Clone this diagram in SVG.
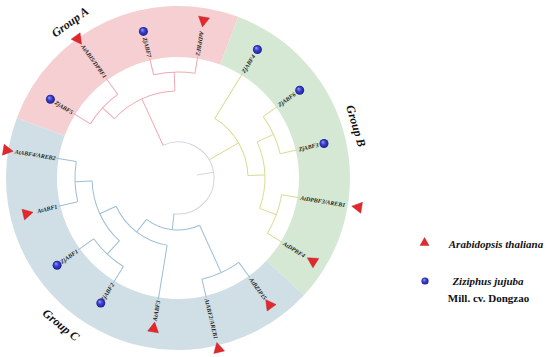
<svg xmlns="http://www.w3.org/2000/svg" width="550" height="357" viewBox="0 0 550 357">
<style>
.lbl{font-family:"Liberation Serif","DejaVu Serif",serif;font-weight:bold;font-style:italic;font-size:6px;fill:#1c1c1c;dominant-baseline:central}
.grp{font-family:"Liberation Serif","DejaVu Serif",serif;font-weight:bold;font-style:italic;font-size:12px;fill:#111;text-anchor:middle;dominant-baseline:central}
.leg{font-family:"Liberation Serif","DejaVu Serif",serif;font-weight:bold;font-size:11px;fill:#111;text-anchor:middle}
.tri{fill:#e2282d;stroke:#b81a1f;stroke-width:0.4}
.dot{fill:url(#gBlue)}
.cn path{fill:none;stroke-width:1}
.pk{stroke:#f0a9b2}
.gr{stroke:#d6dc8f}
.bl{stroke:#9dbdd6}
.rt{stroke:#d9d1e3}
</style>
<defs>
<radialGradient id="gBlue" cx="0.5" cy="0.5" r="0.5" fx="0.35" fy="0.3">
<stop offset="0" stop-color="#9a9cf5"/>
<stop offset="0.5" stop-color="#3b40d0"/>
<stop offset="1" stop-color="#1c1f8e"/>
</radialGradient>
</defs>
<rect width="550" height="357" fill="#fff"/>
<g id="rings">
<path id="groupA-band" fill="#f5cfd1" d="M16.84 117.90A172 172 0 0 1 238.10 16.84L220.28 64.62A121 121 0 0 0 64.62 135.72Z"/>
<path id="groupB-band" fill="#d5e8d3" d="M238.10 16.84A172 172 0 0 1 303.90 295.18L266.57 260.44A121 121 0 0 0 220.28 64.62Z"/>
<path id="groupC-band" fill="#d0dfe5" d="M303.90 295.18A172 172 0 0 1 16.84 117.90L64.62 135.72A121 121 0 0 0 266.57 260.44Z"/>
</g>
<g id="connectors" class="cn" transform="translate(178 178)">
<path class="rt" transform="rotate(245.45)" d="M36 0A36 36 0 1 1 -30.88 -18.51"/>
<path class="rt" transform="rotate(350.9)" d="M19 0H36"/>
<g class="pk">
<path transform="rotate(245.45)" d="M36 0H87"/>
<path transform="rotate(222.95)" d="M87 0A87 87 0 0 1 61.52 61.52"/>
<path transform="rotate(222.95)" d="M87 0H103"/>
<path transform="rotate(267.95)" d="M87 0H106"/>
<path transform="rotate(211.7)" d="M103 0A103 103 0 0 1 95.16 39.42"/>
<path transform="rotate(256.7)" d="M106 0A106 106 0 0 1 97.93 40.56"/>
<path transform="rotate(211.7)" d="M103 0H123"/>
<path transform="rotate(234.2)" d="M103 0H123"/>
<path transform="rotate(256.7)" d="M106 0H123"/>
<path transform="rotate(279.2)" d="M106 0H123"/>
</g>
<g class="gr">
<path transform="rotate(329.83)" d="M36 0H70"/>
<path transform="rotate(301.7)" d="M70 0A70 70 0 0 1 38.89 58.20"/>
<path transform="rotate(301.7)" d="M70 0H123"/>
<path transform="rotate(357.95)" d="M70 0H87"/>
<path transform="rotate(335.45)" d="M87 0A87 87 0 0 1 61.52 61.52"/>
<path transform="rotate(335.45)" d="M87 0H105"/>
<path transform="rotate(20.45)" d="M87 0H105"/>
<path transform="rotate(324.2)" d="M105 0A105 105 0 0 1 97.01 40.18"/>
<path transform="rotate(9.2)" d="M105 0A105 105 0 0 1 97.01 40.18"/>
<path transform="rotate(324.2)" d="M105 0H123"/>
<path transform="rotate(346.7)" d="M105 0H123"/>
<path transform="rotate(9.2)" d="M105 0H123"/>
<path transform="rotate(31.7)" d="M105 0H123"/>
</g>
<g class="bl">
<path transform="rotate(96.39)" d="M36 0H52"/>
<path transform="rotate(65.45)" d="M52 0A52 52 0 0 1 24.51 45.86"/>
<path transform="rotate(65.45)" d="M52 0H104"/>
<path transform="rotate(54.2)" d="M104 0A104 104 0 0 1 96.08 39.80"/>
<path transform="rotate(54.2)" d="M104 0H123"/>
<path transform="rotate(76.7)" d="M104 0H123"/>
<path transform="rotate(127.33)" d="M52 0H68"/>
<path transform="rotate(99.2)" d="M68 0A68 68 0 0 1 37.78 56.54"/>
<path transform="rotate(99.2)" d="M68 0H123"/>
<path transform="rotate(155.45)" d="M68 0H86"/>
<path transform="rotate(132.95)" d="M86 0A86 86 0 0 1 60.81 60.81"/>
<path transform="rotate(132.95)" d="M86 0H104"/>
<path transform="rotate(177.95)" d="M86 0H103"/>
<path transform="rotate(121.7)" d="M104 0A104 104 0 0 1 96.08 39.80"/>
<path transform="rotate(121.7)" d="M104 0H123"/>
<path transform="rotate(144.2)" d="M104 0H123"/>
<path transform="rotate(166.7)" d="M103 0A103 103 0 0 1 95.16 39.42"/>
<path transform="rotate(166.7)" d="M103 0H123"/>
<path transform="rotate(189.2)" d="M103 0H123"/>
</g>
</g>
<g id="leaf-ZjABF5"><text class="lbl" transform="translate(178 178) rotate(31.7)" x="-124" text-anchor="end">ZjABF5</text><circle class="dot" cx="50.4" cy="99.2" r="4.5"/></g>
<g id="leaf-AtABI5-DPBF1"><g transform="translate(178 178) rotate(234.2)"><text class="lbl" transform="rotate(180)" x="-124" text-anchor="end">AtABI5/DPBF1</text><polygon class="tri" points="165,0 175,-5.5 175,5.5"/></g></g>
<g id="leaf-ZjABF7"><text class="lbl" transform="translate(178 178) rotate(76.7)" x="-124" text-anchor="end">ZjABF7</text><circle class="dot" cx="143.4" cy="31.4" r="4.5"/></g>
<g id="leaf-AtDPBF2"><g transform="translate(178 178) rotate(279.2)"><text class="lbl" transform="rotate(180)" x="-124" text-anchor="end">AtDPBF2</text><polygon class="tri" points="153,0 163,-5.5 163,5.5"/></g></g>
<g id="leaf-ZjABF4"><text class="lbl" transform="translate(178 178) rotate(301.7)" x="124">ZjABF4</text><circle class="dot" cx="257.4" cy="49.5" r="4.5"/></g>
<g id="leaf-ZjABF6"><text class="lbl" transform="translate(178 178) rotate(324.2)" x="124">ZjABF6</text><circle class="dot" cx="299.7" cy="90.3" r="4.5"/></g>
<g id="leaf-ZjABF3"><text class="lbl" transform="translate(178 178) rotate(346.7)" x="124">ZjABF3</text><circle class="dot" cx="324.0" cy="143.5" r="4.5"/></g>
<g id="leaf-AtDPBF3-AREB1"><g transform="translate(178 178) rotate(9.2)"><text class="lbl" x="124">AtDPBF3/AREB1</text><polygon class="tri" points="176,0 186,-5.5 186,5.5"/></g></g>
<g id="leaf-AtDPBF4"><g transform="translate(178 178) rotate(31.7)"><text class="lbl" x="124">AtDPBF4</text><polygon class="tri" points="152,0 162,-5.5 162,5.5"/></g></g>
<g id="leaf-AtBZIP15"><g transform="translate(178 178) rotate(54.2)"><text class="lbl" x="124">AtBZIP15</text><polygon class="tri" points="150,0 160,-5.5 160,5.5"/></g></g>
<g id="leaf-AtABF2-AREB1"><g transform="translate(178 178) rotate(76.7)"><text class="lbl" x="124">AtABF2/AREB1</text><polygon class="tri" points="169,0 179,-5.5 179,5.5"/></g></g>
<g id="leaf-AtABF3"><g transform="translate(178 178) rotate(99.2)"><text class="lbl" transform="rotate(180)" x="-124" text-anchor="end">AtABF3</text><polygon class="tri" points="146,0 156,-5.5 156,5.5"/></g></g>
<g id="leaf-ZjABF2"><text class="lbl" transform="translate(178 178) rotate(301.7)" x="-124" text-anchor="end">ZjABF2</text><circle class="dot" cx="100.8" cy="303.1" r="4.5"/></g>
<g id="leaf-ZjABF1"><text class="lbl" transform="translate(178 178) rotate(324.2)" x="-124" text-anchor="end">ZjABF1</text><circle class="dot" cx="57.1" cy="265.2" r="4.5"/></g>
<g id="leaf-AtABF1"><g transform="translate(178 178) rotate(166.7)"><text class="lbl" transform="rotate(180)" x="-124" text-anchor="end">AtABF1</text><polygon class="tri" points="149,0 159,-5.5 159,5.5"/></g></g>
<g id="leaf-AtABF4-AREB2"><g transform="translate(178 178) rotate(189.2)"><text class="lbl" transform="rotate(180)" x="-124" text-anchor="end">AtABF4/AREB2</text><polygon class="tri" points="167,0 177,-5.5 177,5.5"/></g></g>
<g id="group-labels">
<text class="grp" transform="translate(70 22) rotate(-36)">Group A</text>
<text class="grp" transform="translate(356 126) rotate(73)">Group B</text>
<text class="grp" transform="translate(61 325) rotate(39)">Group C</text>
</g>
<g id="legend">
<polygon class="tri" points="424.5,237.5 420,245.5 429,245.5"/>
<text class="leg" x="496" y="248" font-style="italic">Arabidopsis thaliana</text>
<circle class="dot" cx="425" cy="281" r="3.6"/>
<text class="leg" x="488" y="285" font-style="italic">Ziziphus jujuba</text>
<text class="leg" x="488.5" y="301.5" font-size="11.5px">Mill. cv. Dongzao</text>
</g>
</svg>
